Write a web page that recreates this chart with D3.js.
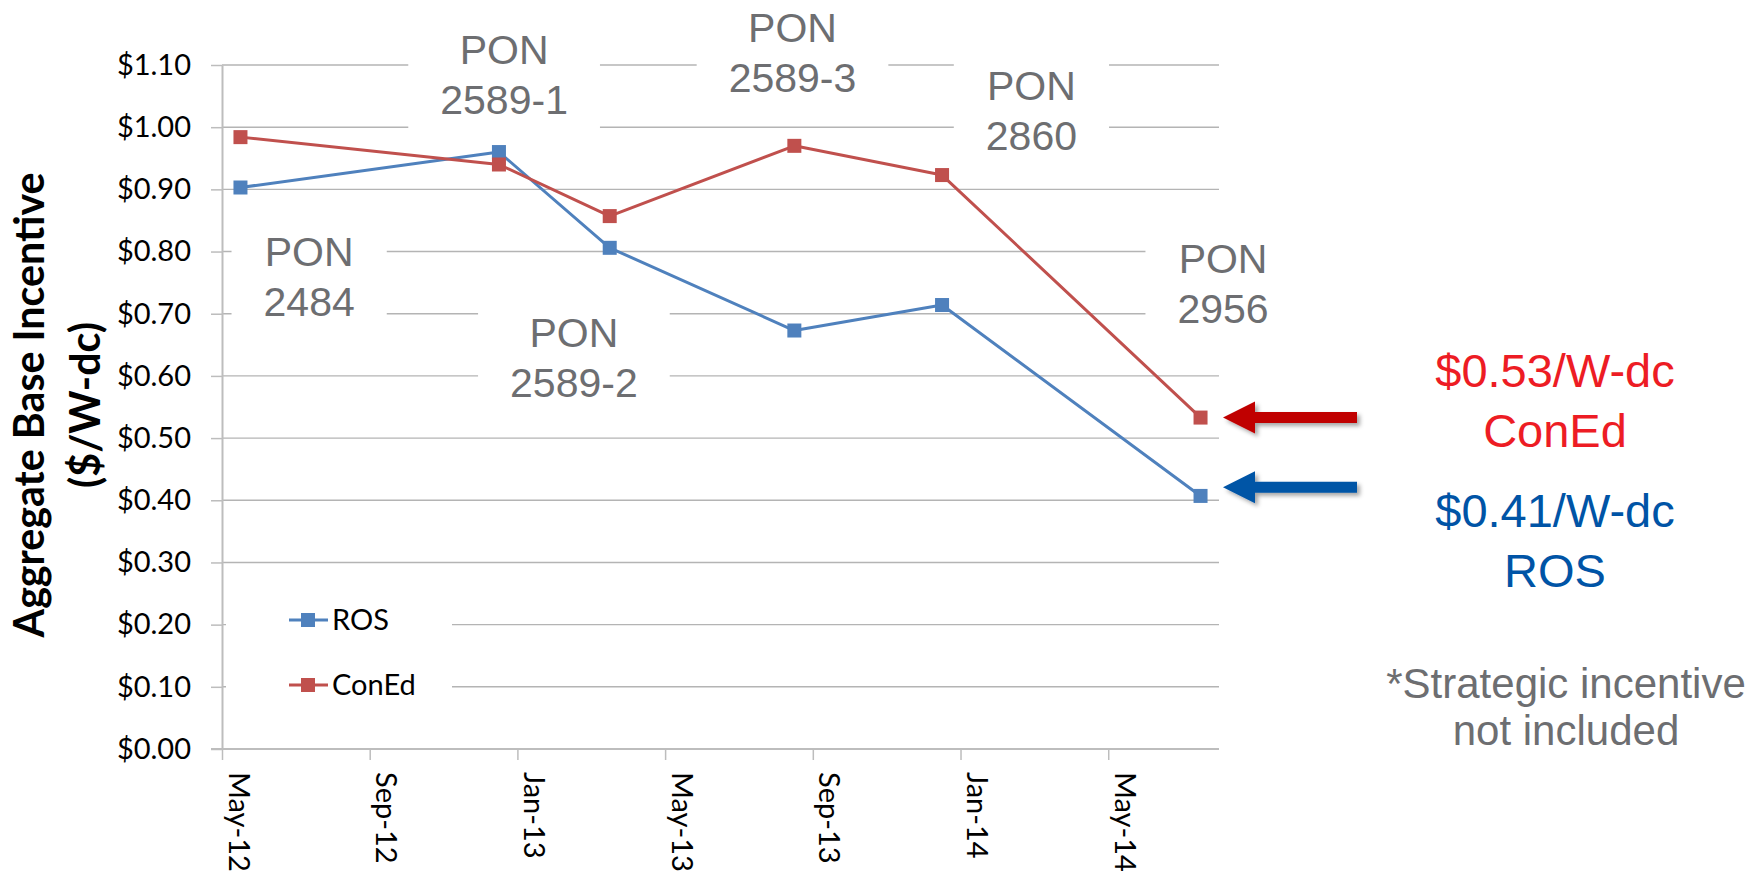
<!DOCTYPE html>
<html>
<head>
<meta charset="utf-8">
<script src="https://cdn.jsdelivr.net/npm/d3@7"></script>
<style>
  body { margin: 0; background: #fff; }
  svg text { font-family: Lato, "DejaVu Sans", sans-serif; }
  svg .arial { font-family: "Liberation Sans", Arial, sans-serif; }
</style>
</head>
<body>
<div id="chart"></div>
<script>
// data
const dates = ['2012-05', '2012-12', '2013-03', '2013-08', '2013-12', '2014-07'];
const rosValues = [0.903, 0.960, 0.806, 0.673, 0.714, 0.407];
const conEdValues = [0.984, 0.940, 0.857, 0.970, 0.923, 0.533];
const seriesNames = ['ROS', 'ConEd'];
const seriesColors = ['#4f81bd', '#c0504d'];
const yTickValues = [0, 0.1, 0.2, 0.3, 0.4, 0.5, 0.6, 0.7, 0.8, 0.9, 1.0, 1.1];
const xTickDates = ['2012-05', '2012-09', '2013-01', '2013-05', '2013-09', '2014-01', '2014-05'];
const ponNames = ['2484', '2589-1', '2589-2', '2589-3', '2860', '2956'];
// anchor of each PON note: month index from May-12, value of first baseline
const ponMonths = [2.36, 7.64, 9.53, 15.45, 21.92, 27.11];
const ponValues = [0.777, 1.102, 0.647, 1.137, 1.044, 0.766];
const calloutLines = [['$0.53/W-dc', 'ConEd'], ['$0.41/W-dc', 'ROS']];
const calloutColors = ['#ed1c24', '#0054a6'];
const arrowColors = ['#c00000', '#0054a6'];
const arrowValues = [0.533, 0.421];
const footnoteLines = ['*Strategic incentive', 'not included'];

const parseMonth = d3.timeParse('%Y-%m');
const start = parseMonth('2012-05');
const monthIndex = s => d3.timeMonth.count(start, parseMonth(s));

const width = 1761, height = 876;
const svg = d3.select('#chart').append('svg')
    .attr('width', width)
    .attr('height', height);

const x = d3.scaleLinear().domain([0, 27]).range([222, 1219]);
const y = d3.scaleLinear().domain([0, 1.1]).range([749, 65]);

// shadow for arrows
const defs = svg.append('defs');
const f = defs.append('filter').attr('id', 'shadow')
    .attr('x', '-20%').attr('y', '-50%').attr('width', '140%').attr('height', '200%');
f.append('feDropShadow')
    .attr('dx', 3).attr('dy', 3).attr('stdDeviation', 2)
    .attr('flood-color', '#000').attr('flood-opacity', 0.35);

// gridlines
svg.append('g')
    .selectAll('line')
    .data(yTickValues.filter(v => v > 0))
    .join('line')
    .attr('x1', x(0)).attr('x2', x(27))
    .attr('y1', d => y(d)).attr('y2', d => y(d))
    .attr('stroke', '#b4b4b4')
    .attr('stroke-width', 1.4);

// Y axis
const yAxis = svg.append('g')
    .attr('transform', `translate(${x(0)},0)`)
    .call(d3.axisLeft(y)
        .tickValues(yTickValues)
        .tickSize(11)
        .tickSizeOuter(0)
        .tickPadding(20)
        .tickFormat(d => '$' + d.toFixed(2)));
yAxis.select('.domain').attr('stroke', '#bdbdbd').attr('stroke-width', 2);
yAxis.selectAll('.tick line').attr('stroke', '#bdbdbd').attr('stroke-width', 1.5);
yAxis.selectAll('.tick text')
    .attr('fill', '#000')
    .style('font-size', '29px')
    .style('font-family', 'Lato, sans-serif');

// X axis
const xAxis = svg.append('g')
    .attr('transform', `translate(0,${y(0)})`)
    .call(d3.axisBottom(x)
        .tickValues(xTickDates.map(monthIndex))
        .tickSize(11)
        .tickSizeOuter(0)
        .tickFormat(d => d3.timeFormat('%b-%y')(d3.timeMonth.offset(start, d))));
xAxis.select('.domain').attr('stroke', '#bdbdbd').attr('stroke-width', 2)
    .attr('d', `M${x(0) - 11},0H${x(27)}`);
xAxis.selectAll('.tick line').attr('stroke', '#bdbdbd').attr('stroke-width', 1.5);
xAxis.selectAll('.tick text')
    .attr('transform', 'rotate(90)')
    .attr('x', 23)
    .attr('y', -6)
    .attr('dy', 0)
    .attr('fill', '#000')
    .style('text-anchor', 'start')
    .style('font-size', '29px')
    .style('font-family', 'Lato, sans-serif');

// PON notes with white boxes
const notes = svg.append('g');
ponNames.forEach((name, i) => {
    const g = notes.append('g');
    const t = g.append('text')
        .attr('class', 'arial')
        .attr('x', x(ponMonths[i]))
        .attr('y', y(ponValues[i]))
        .attr('text-anchor', 'middle')
        .attr('fill', '#6d6e71')
        .style('font-size', '41px');
    t.append('tspan').attr('x', x(ponMonths[i])).text('PON');
    t.append('tspan').attr('x', x(ponMonths[i])).attr('dy', 50).text(name);
    const b = t.node().getBBox();
    g.insert('rect', 'text')
        .attr('x', b.x - 32)
        .attr('y', b.y - 8)
        .attr('width', b.width + 64)
        .attr('height', b.height + 19)
        .attr('fill', '#fff');
});

// legend box
svg.append('rect')
    .attr('x', x(0) + 4).attr('y', 596)
    .attr('width', 226).attr('height', 118)
    .attr('fill', '#fff');

// series
const seriesData = [rosValues, conEdValues];
const line = d3.line()
    .x(d => x(d.m))
    .y(d => y(d.v));

seriesData.forEach((vals, s) => {
    const pts = vals.map((v, i) => ({m: monthIndex(dates[i]) + 0.5, v}));
    const g = svg.append('g');
    g.append('path')
        .datum(pts)
        .attr('d', line)
        .attr('fill', 'none')
        .attr('stroke', seriesColors[s])
        .attr('stroke-width', 3)
        .attr('stroke-linejoin', 'round');
    g.selectAll('rect')
        .data(pts)
        .join('rect')
        .attr('x', d => x(d.m) - 7)
        .attr('y', d => y(d.v) - 7)
        .attr('width', 14)
        .attr('height', 14)
        .attr('fill', seriesColors[s]);
});

// legend
const legend = svg.append('g');
seriesNames.forEach((name, s) => {
    const ly = 620 + s * 65;
    legend.append('line')
        .attr('x1', 289).attr('x2', 328)
        .attr('y1', ly).attr('y2', ly)
        .attr('stroke', seriesColors[s]).attr('stroke-width', 3);
    legend.append('rect')
        .attr('x', 301).attr('y', ly - 7)
        .attr('width', 14).attr('height', 14)
        .attr('fill', seriesColors[s]);
    legend.append('text')
        .attr('x', 332).attr('y', ly)
        .attr('dy', '0.35em')
        .attr('fill', '#000')
        .style('font-size', '29px')
        .text(name);
});

// Y axis title
const title = svg.append('text')
    .attr('transform', 'translate(44,405) rotate(-90)')
    .attr('text-anchor', 'middle')
    .attr('fill', '#000')
    .style('font-weight', 'bold')
    .style('font-size', '40px');
title.append('tspan').attr('x', 0).attr('y', 0).text('Aggregate Base Incentive');
title.append('tspan').attr('x', 0).attr('y', 56).text('($/W-dc)');
const tl = title.select('tspan').node().getComputedTextLength();
title.style('font-size', (40 * 465 / tl) + 'px');

// arrows
arrowValues.forEach((v, i) => {
    const cy = y(v);
    const tip = 1223, base = 1255, end = 1357, hh = 16, sh = 5.5;
    svg.append('path')
        .attr('d', `M${tip},${cy}L${base},${cy - hh}L${base},${cy - sh}L${end},${cy - sh}` +
            `L${end},${cy + sh}L${base},${cy + sh}L${base},${cy + hh}Z`)
        .attr('fill', arrowColors[i])
        .attr('filter', 'url(#shadow)');
});

// callouts
const calloutBaselines = [387, 527];
calloutLines.forEach((lines, i) => {
    const t = svg.append('text')
        .attr('class', 'arial')
        .attr('text-anchor', 'middle')
        .attr('fill', calloutColors[i])
        .style('font-size', '47px');
    lines.forEach((s, j) => {
        t.append('tspan').attr('x', 1555).attr('y', calloutBaselines[i] + j * 60).text(s);
    });
});

// footnote
const fn = svg.append('text')
    .attr('class', 'arial')
    .attr('text-anchor', 'middle')
    .attr('fill', '#6d6e71')
    .style('font-size', '42px');
footnoteLines.forEach((s, j) => {
    fn.append('tspan').attr('x', 1566).attr('y', 698 + j * 47).text(s);
});
</script>
</body>
</html>
